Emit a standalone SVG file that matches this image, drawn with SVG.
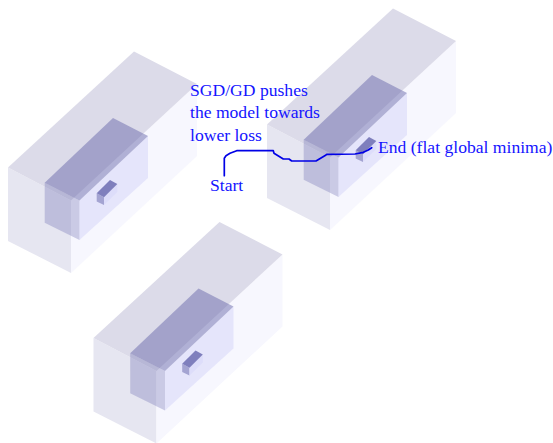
<svg xmlns="http://www.w3.org/2000/svg" xmlns:xlink="http://www.w3.org/1999/xlink" width="553" height="443" viewBox="0 0 553 443">
<style>
.ol{fill:#e6e6f1}.or{fill:#f7f7fe}.ot{fill:#dcdbe9}
.il{fill:#6464ab;fill-opacity:.3}.if{fill:#bebef4;fill-opacity:.3}.it{fill:#6a69ac;fill-opacity:.5}
.st{fill:#7f7fbd}.sl{fill:#a4a4d2}.sf{fill:#ddddfa}
text{font-family:"Liberation Serif","Times New Roman",serif;font-size:17.6px;fill:#1414ff}
.path{fill:none;stroke:#0000e6;stroke-width:1.7;stroke-linejoin:round;stroke-linecap:round}
</style>
<defs>
<g id="box">
<polygon class="ol" points="8,167.5 71,200.5 71,273 8,241"/>
<polygon class="or" points="71,200.5 197,84 197,156 71,273"/>
<polygon class="ot" points="8,167.5 134,51.5 197,84 71,200.5"/>
<polygon class="il" points="44.7,182.7 79.5,200.5 79.5,240 44.7,222.7"/>
<polygon class="if" points="79.5,200.5 148,136 148,178 79.5,240"/>
<polygon class="it" points="44.7,182.7 113,118 148,136 79.5,200.5"/>
<polygon class="sl" points="96.7,193.3 104,197.3 104,205 96.7,201.5"/>
<polygon class="sf" points="104,197.3 117.3,184 117.3,192 104,205"/>
<polygon class="st" points="96.7,193.3 110,180 117.3,184 104,197.3"/>
</g>
</defs>
<g id="node-left"><use xlink:href="#box" href="#box"/></g>
<g id="node-right"><use xlink:href="#box" href="#box" x="259" y="-43"/></g>
<g id="node-bottom"><use xlink:href="#box" href="#box" x="85.5" y="170.5"/></g>
<g id="connectors"><path class="path" d="M224.3,175.7 L224.3,158.3 L226,155.7 L230,153.3 L236.7,150.7 L273.3,150.7 L274,153.3 L283.3,159 L289,159 L291.7,161 L316,161 L326,155 L326.7,154.3 L355,154 L363.3,152.3 L368.3,150 L371.7,147.7"/></g>
<g id="labels">
<text x="190" y="96">SGD/GD pushes</text>
<text x="190" y="118">the model towards</text>
<text x="190" y="140.5">lower loss</text>
<text x="210" y="191">Start</text>
<text x="378" y="153">End (flat global minima)</text>
</g>
</svg>
